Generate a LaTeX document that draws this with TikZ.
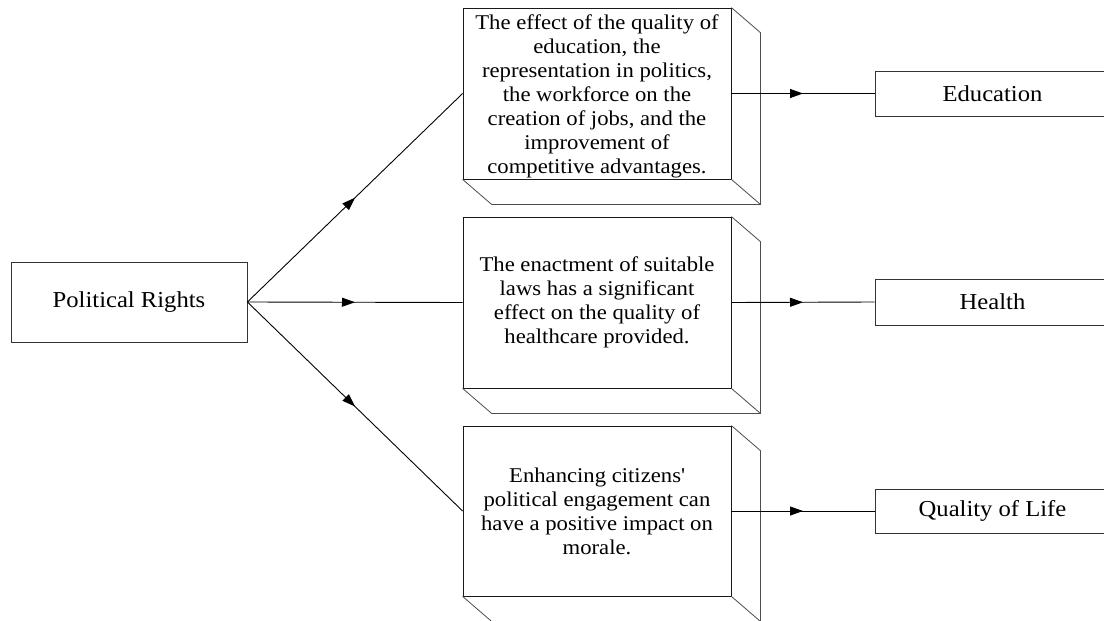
\documentclass[tikz,border=0pt]{standalone}
\usepackage{fontspec}
\setmainfont{Liberation Serif}[FakeStretch=1.08]
\usetikzlibrary{arrows.meta,decorations.markings}
\tikzset{
  frontbox/.style={draw=black!90, line width=0.8pt, minimum width=268pt, minimum height=171pt,
    inner sep=0pt, align=center, font=\fontsize{21}{24}\selectfont},
  labelbox/.style={draw=black!80, line width=0.8pt, minimum width=235pt, minimum height=45pt,
    inner sep=0pt, font=\fontsize{22.8}{26}\selectfont},
  face/.style={draw=black!70, line width=0.8pt},
  midarrow/.style={draw=black, line width=0.9pt, postaction={decorate},
    decoration={markings, mark=at position 0.5 with {\arrow{Triangle[length=13pt,width=9pt]}}}},
}
\begin{document}
\begin{tikzpicture}[x=1pt,y=-1pt]
\clip (0,0) rectangle (1104,621);

\node[labelbox, minimum width=236pt, minimum height=80pt] (pr) at (129,302) {Political Rights};

\node[frontbox] (f1) at (597,93.5) {\rule{0pt}{21pt}The effect of the quality of\\ education, the\\ representation in politics,\\ the workforce on the\\ creation of jobs, and the\\ improvement of\\ competitive advantages.};
\node[frontbox] (f2) at (597,302.5) {The enactment of suitable\\ laws has a significant\\ effect on the quality of\\ healthcare provided.};
\node[frontbox, minimum height=170pt] (f3) at (597,511) {Enhancing citizens\textquotesingle\\ political engagement can\\ have a positive impact on\\ morale.};

\foreach \f in {f1,f2,f3}{
  \draw[face] (\f.north east) -- ++(29,25) |- ([shift={(29,25)}]\f.south west) -- (\f.south west);
  \draw[face] (\f.south east) -- ++(29,25);
}

\node[labelbox] (edu) at (992.5,93.5) {Education};
\node[labelbox, minimum height=46pt] (hea) at (992.5,302) {Health};
\node[labelbox, minimum height=44pt] (qol) at (992.5,511) {Quality of Life};

\draw[midarrow] (pr.east) -- (f1.west);
\draw[midarrow] (pr.east) -- (f2.west);
\draw[midarrow] (pr.east) -- (f3.west);

\draw[midarrow] (f1.east) -- (edu.west);
\draw[midarrow] (f2.east) -- (hea.west);
\draw[midarrow] (f3.east) -- (qol.west);
\end{tikzpicture}
\end{document}
